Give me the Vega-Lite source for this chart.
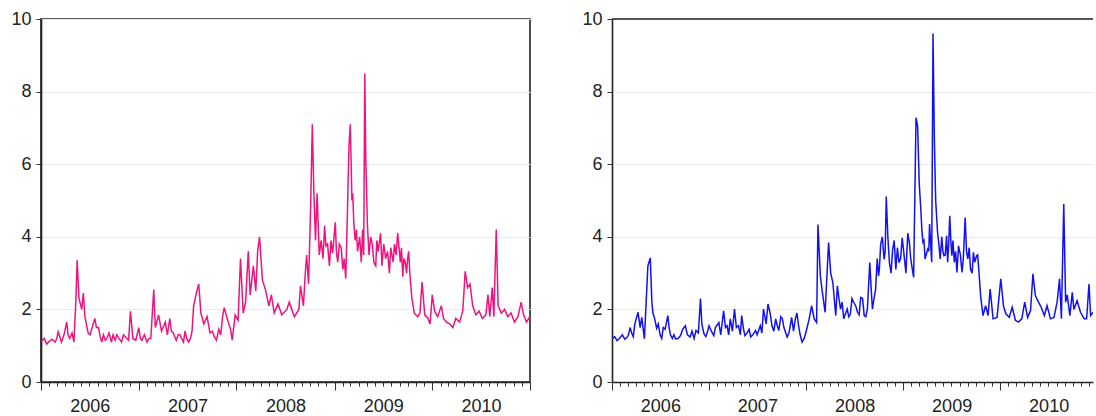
{
  "$schema": "https://vega.github.io/schema/vega-lite/v6.json",
  "padding": {"left": 10, "top": 9, "right": 0, "bottom": 2},
  "background": "white",
  "spacing": 82,
  "bounds": "flush",
  "config": {
    "font": "Liberation Sans",
    "axis": {"labelFont": "Liberation Sans", "labelFontSize": 18, "labelColor": "#222", "title": null}
  },
  "datasets": {
    "pink": [
      {"t": "2006-01-04", "v": 1.13}, {"t": "2006-01-22", "v": 1.05}, {"t": "2006-02-11", "v": 1.18}, {"t": "2006-02-23", "v": 1.1},
      {"t": "2006-03-06", "v": 1.38}, {"t": "2006-03-18", "v": 1.1}, {"t": "2006-04-07", "v": 1.65}, {"t": "2006-04-18", "v": 1.2},
      {"t": "2006-05-04", "v": 1.1}, {"t": "2006-05-11", "v": 2.2}, {"t": "2006-05-16", "v": 3.35}, {"t": "2006-05-23", "v": 2.3},
      {"t": "2006-06-02", "v": 2.0}, {"t": "2006-06-08", "v": 2.45}, {"t": "2006-06-14", "v": 1.8}, {"t": "2006-06-26", "v": 1.35},
      {"t": "2006-07-09", "v": 1.45}, {"t": "2006-07-21", "v": 1.75}, {"t": "2006-08-04", "v": 1.5}, {"t": "2006-08-16", "v": 1.1},
      {"t": "2006-09-04", "v": 1.2}, {"t": "2006-09-21", "v": 1.1}, {"t": "2006-10-11", "v": 1.3}, {"t": "2006-10-29", "v": 1.1},
      {"t": "2006-11-18", "v": 1.2}, {"t": "2006-12-01", "v": 1.95}, {"t": "2006-12-10", "v": 1.2}, {"t": "2006-12-21", "v": 1.15},
      {"t": "2007-01-01", "v": 1.5}, {"t": "2007-01-13", "v": 1.15}, {"t": "2007-02-01", "v": 1.1}, {"t": "2007-02-15", "v": 1.2},
      {"t": "2007-02-26", "v": 2.55}, {"t": "2007-03-04", "v": 1.5}, {"t": "2007-03-16", "v": 1.85}, {"t": "2007-03-27", "v": 1.4},
      {"t": "2007-04-10", "v": 1.65}, {"t": "2007-04-18", "v": 1.3}, {"t": "2007-04-27", "v": 1.75}, {"t": "2007-05-10", "v": 1.35},
      {"t": "2007-05-21", "v": 1.15}, {"t": "2007-06-04", "v": 1.3}, {"t": "2007-06-17", "v": 1.1}, {"t": "2007-06-29", "v": 1.2},
      {"t": "2007-07-13", "v": 1.2}, {"t": "2007-07-25", "v": 2.1}, {"t": "2007-08-04", "v": 2.45}, {"t": "2007-08-13", "v": 2.7},
      {"t": "2007-08-21", "v": 1.9}, {"t": "2007-09-01", "v": 1.6}, {"t": "2007-09-13", "v": 1.8}, {"t": "2007-09-24", "v": 1.35},
      {"t": "2007-10-10", "v": 1.25}, {"t": "2007-10-27", "v": 1.45}, {"t": "2007-11-10", "v": 1.8}, {"t": "2007-11-16", "v": 2.05},
      {"t": "2007-11-29", "v": 1.7}, {"t": "2007-12-10", "v": 1.45}, {"t": "2007-12-16", "v": 1.15}, {"t": "2007-12-27", "v": 1.85},
      {"t": "2008-01-07", "v": 1.7}, {"t": "2008-01-16", "v": 3.4}, {"t": "2008-01-26", "v": 1.9}, {"t": "2008-02-04", "v": 2.2},
      {"t": "2008-02-14", "v": 3.6}, {"t": "2008-02-21", "v": 2.4}, {"t": "2008-03-04", "v": 3.2}, {"t": "2008-03-13", "v": 2.5},
      {"t": "2008-03-20", "v": 3.6}, {"t": "2008-03-27", "v": 4.0}, {"t": "2008-04-07", "v": 2.8}, {"t": "2008-04-18", "v": 2.55},
      {"t": "2008-05-01", "v": 2.1}, {"t": "2008-05-10", "v": 2.4}, {"t": "2008-05-21", "v": 1.9}, {"t": "2008-06-04", "v": 2.15},
      {"t": "2008-06-18", "v": 1.85}, {"t": "2008-07-07", "v": 2.0}, {"t": "2008-07-16", "v": 2.2}, {"t": "2008-08-04", "v": 1.8},
      {"t": "2008-08-21", "v": 2.0}, {"t": "2008-08-27", "v": 2.65}, {"t": "2008-09-07", "v": 2.1}, {"t": "2008-09-13", "v": 2.9},
      {"t": "2008-09-19", "v": 3.5}, {"t": "2008-09-26", "v": 2.7}, {"t": "2008-10-04", "v": 4.85}, {"t": "2008-10-10", "v": 7.1},
      {"t": "2008-10-16", "v": 5.2}, {"t": "2008-10-22", "v": 3.9}, {"t": "2008-10-28", "v": 5.2}, {"t": "2008-11-05", "v": 3.5},
      {"t": "2008-11-19", "v": 3.4}, {"t": "2008-11-25", "v": 4.3}, {"t": "2008-11-30", "v": 3.75}, {"t": "2008-12-13", "v": 3.2},
      {"t": "2008-12-25", "v": 3.55}, {"t": "2009-01-04", "v": 4.4}, {"t": "2009-01-13", "v": 3.3}, {"t": "2009-01-19", "v": 3.8},
      {"t": "2009-02-01", "v": 3.1}, {"t": "2009-02-12", "v": 2.85}, {"t": "2009-02-18", "v": 4.6}, {"t": "2009-02-24", "v": 6.5},
      {"t": "2009-03-01", "v": 7.1}, {"t": "2009-03-07", "v": 5.0}, {"t": "2009-03-10", "v": 5.2}, {"t": "2009-03-19", "v": 3.9},
      {"t": "2009-03-28", "v": 3.6}, {"t": "2009-04-05", "v": 4.0}, {"t": "2009-04-11", "v": 3.3}, {"t": "2009-04-16", "v": 4.2},
      {"t": "2009-04-20", "v": 3.5}, {"t": "2009-04-24", "v": 8.5}, {"t": "2009-04-28", "v": 6.1}, {"t": "2009-05-04", "v": 4.3},
      {"t": "2009-05-10", "v": 3.5}, {"t": "2009-05-22", "v": 3.8}, {"t": "2009-06-04", "v": 3.2}, {"t": "2009-06-13", "v": 3.6},
      {"t": "2009-06-22", "v": 4.1}, {"t": "2009-06-27", "v": 3.2}, {"t": "2009-07-11", "v": 3.4}, {"t": "2009-07-25", "v": 3.0},
      {"t": "2009-07-30", "v": 3.7}, {"t": "2009-08-08", "v": 3.3}, {"t": "2009-08-19", "v": 3.5}, {"t": "2009-08-25", "v": 4.1},
      {"t": "2009-09-04", "v": 3.3}, {"t": "2009-09-13", "v": 2.9}, {"t": "2009-09-22", "v": 3.3}, {"t": "2009-10-01", "v": 3.4},
      {"t": "2009-10-10", "v": 2.9}, {"t": "2009-10-17", "v": 2.3}, {"t": "2009-10-26", "v": 1.9}, {"t": "2009-11-08", "v": 1.8},
      {"t": "2009-11-16", "v": 1.9}, {"t": "2009-11-24", "v": 2.75}, {"t": "2009-12-04", "v": 1.85}, {"t": "2009-12-16", "v": 1.75},
      {"t": "2009-12-24", "v": 1.6}, {"t": "2010-01-01", "v": 2.4}, {"t": "2010-01-10", "v": 1.95}, {"t": "2010-01-21", "v": 1.8},
      {"t": "2010-02-04", "v": 2.1}, {"t": "2010-02-12", "v": 1.75}, {"t": "2010-02-23", "v": 1.65}, {"t": "2010-03-07", "v": 1.6},
      {"t": "2010-03-19", "v": 1.5}, {"t": "2010-03-30", "v": 1.75}, {"t": "2010-04-13", "v": 1.65}, {"t": "2010-04-25", "v": 1.95},
      {"t": "2010-05-04", "v": 3.05}, {"t": "2010-05-13", "v": 2.6}, {"t": "2010-05-22", "v": 2.7}, {"t": "2010-06-01", "v": 2.1},
      {"t": "2010-06-13", "v": 1.85}, {"t": "2010-06-25", "v": 1.95}, {"t": "2010-07-07", "v": 1.75}, {"t": "2010-07-20", "v": 1.85},
      {"t": "2010-07-28", "v": 2.4}, {"t": "2010-08-04", "v": 1.8}, {"t": "2010-08-13", "v": 2.6}, {"t": "2010-08-19", "v": 1.8},
      {"t": "2010-08-28", "v": 4.2}, {"t": "2010-09-04", "v": 2.1}, {"t": "2010-09-16", "v": 1.9}, {"t": "2010-09-28", "v": 2.0},
      {"t": "2010-10-10", "v": 1.8}, {"t": "2010-10-22", "v": 1.9}, {"t": "2010-11-04", "v": 1.65}, {"t": "2010-11-17", "v": 1.8},
      {"t": "2010-11-29", "v": 2.2}, {"t": "2010-12-08", "v": 1.85}, {"t": "2010-12-19", "v": 1.65}, {"t": "2010-12-31", "v": 1.8},
      {"t": "2006-01-13", "v": 1.2}, {"t": "2006-02-01", "v": 1.12}, {"t": "2006-03-01", "v": 1.2}, {"t": "2006-03-12", "v": 1.25},
      {"t": "2006-03-28", "v": 1.3}, {"t": "2006-04-12", "v": 1.3}, {"t": "2006-04-27", "v": 1.35}, {"t": "2006-07-03", "v": 1.3},
      {"t": "2006-07-15", "v": 1.6}, {"t": "2006-07-27", "v": 1.5}, {"t": "2006-08-10", "v": 1.25}, {"t": "2006-08-22", "v": 1.3},
      {"t": "2006-08-29", "v": 1.15}, {"t": "2006-09-12", "v": 1.35}, {"t": "2006-09-27", "v": 1.3}, {"t": "2006-10-05", "v": 1.15},
      {"t": "2006-10-19", "v": 1.2}, {"t": "2006-11-05", "v": 1.3}, {"t": "2006-11-24", "v": 1.15}, {"t": "2007-01-07", "v": 1.2},
      {"t": "2007-01-22", "v": 1.3}, {"t": "2007-02-08", "v": 1.2}, {"t": "2007-05-03", "v": 1.4}, {"t": "2007-05-28", "v": 1.3},
      {"t": "2007-06-10", "v": 1.2}, {"t": "2007-06-23", "v": 1.4}, {"t": "2007-07-06", "v": 1.1}, {"t": "2007-07-19", "v": 1.4},
      {"t": "2007-10-03", "v": 1.4}, {"t": "2007-10-18", "v": 1.15}, {"t": "2007-11-03", "v": 1.3},
      {"t": "2008-11-12", "v": 3.9}, {"t": "2008-12-06", "v": 3.8}, {"t": "2008-12-19", "v": 3.9}, {"t": "2009-01-08", "v": 3.6},
      {"t": "2009-01-26", "v": 3.7}, {"t": "2009-02-06", "v": 3.4}, {"t": "2009-03-14", "v": 4.4}, {"t": "2009-03-24", "v": 4.2},
      {"t": "2009-05-16", "v": 4.0}, {"t": "2009-05-28", "v": 3.3}, {"t": "2009-06-08", "v": 3.9}, {"t": "2009-07-04", "v": 3.8},
      {"t": "2009-07-18", "v": 3.6}, {"t": "2009-08-13", "v": 3.8}, {"t": "2009-09-08", "v": 3.7}, {"t": "2009-09-17", "v": 3.4},
      {"t": "2009-09-27", "v": 3.0}, {"t": "2009-10-05", "v": 3.6}
    ],
    "blue": [
      {"t": "2006-01-02", "v": 1.19}, {"t": "2006-01-20", "v": 1.14}, {"t": "2006-02-09", "v": 1.3}, {"t": "2006-02-27", "v": 1.23},
      {"t": "2006-03-10", "v": 1.5}, {"t": "2006-03-22", "v": 1.25}, {"t": "2006-04-09", "v": 1.92}, {"t": "2006-04-17", "v": 1.5},
      {"t": "2006-04-23", "v": 1.78}, {"t": "2006-05-03", "v": 1.19}, {"t": "2006-05-16", "v": 3.2}, {"t": "2006-05-25", "v": 3.42},
      {"t": "2006-05-31", "v": 2.2}, {"t": "2006-06-10", "v": 1.76}, {"t": "2006-06-18", "v": 1.48}, {"t": "2006-07-01", "v": 1.3},
      {"t": "2006-07-13", "v": 1.5}, {"t": "2006-07-30", "v": 1.83}, {"t": "2006-08-09", "v": 1.3}, {"t": "2006-08-28", "v": 1.19},
      {"t": "2006-09-16", "v": 1.28}, {"t": "2006-10-04", "v": 1.55}, {"t": "2006-10-22", "v": 1.24}, {"t": "2006-11-13", "v": 1.42},
      {"t": "2006-11-30", "v": 2.3}, {"t": "2006-12-13", "v": 1.33}, {"t": "2007-01-01", "v": 1.55}, {"t": "2007-01-19", "v": 1.28},
      {"t": "2007-02-07", "v": 1.64}, {"t": "2007-02-25", "v": 1.96}, {"t": "2007-03-10", "v": 1.55}, {"t": "2007-03-22", "v": 1.74},
      {"t": "2007-04-07", "v": 2.01}, {"t": "2007-04-22", "v": 1.55}, {"t": "2007-05-04", "v": 1.83}, {"t": "2007-05-16", "v": 1.28},
      {"t": "2007-06-07", "v": 1.24}, {"t": "2007-06-25", "v": 1.42}, {"t": "2007-07-13", "v": 1.55}, {"t": "2007-07-25", "v": 2.01},
      {"t": "2007-08-11", "v": 2.15}, {"t": "2007-08-26", "v": 1.55}, {"t": "2007-09-09", "v": 1.74}, {"t": "2007-09-21", "v": 1.42},
      {"t": "2007-10-04", "v": 1.74}, {"t": "2007-10-22", "v": 1.24}, {"t": "2007-11-08", "v": 1.78}, {"t": "2007-11-22", "v": 1.74},
      {"t": "2007-12-04", "v": 1.55}, {"t": "2007-12-17", "v": 1.1}, {"t": "2008-01-01", "v": 1.37}, {"t": "2008-01-13", "v": 1.74},
      {"t": "2008-01-22", "v": 2.1}, {"t": "2008-02-01", "v": 1.74}, {"t": "2008-02-10", "v": 1.64}, {"t": "2008-02-15", "v": 4.34},
      {"t": "2008-02-24", "v": 2.92}, {"t": "2008-03-01", "v": 2.56}, {"t": "2008-03-13", "v": 1.92}, {"t": "2008-03-26", "v": 3.84},
      {"t": "2008-04-03", "v": 3.0}, {"t": "2008-04-11", "v": 2.74}, {"t": "2008-04-22", "v": 1.83}, {"t": "2008-04-28", "v": 2.65},
      {"t": "2008-05-10", "v": 2.01}, {"t": "2008-05-22", "v": 1.74}, {"t": "2008-06-04", "v": 2.01}, {"t": "2008-06-16", "v": 1.87},
      {"t": "2008-06-29", "v": 2.19}, {"t": "2008-07-13", "v": 1.92}, {"t": "2008-07-25", "v": 2.33}, {"t": "2008-08-07", "v": 1.83},
      {"t": "2008-08-19", "v": 2.01}, {"t": "2008-08-28", "v": 3.29}, {"t": "2008-09-07", "v": 2.01}, {"t": "2008-09-19", "v": 2.56},
      {"t": "2008-09-30", "v": 2.92}, {"t": "2008-10-08", "v": 3.79}, {"t": "2008-10-21", "v": 3.38}, {"t": "2008-10-29", "v": 5.11},
      {"t": "2008-11-10", "v": 3.29}, {"t": "2008-11-22", "v": 3.65}, {"t": "2008-12-04", "v": 3.1}, {"t": "2008-12-16", "v": 3.29},
      {"t": "2008-12-28", "v": 3.97}, {"t": "2009-01-11", "v": 3.0}, {"t": "2009-01-24", "v": 3.84}, {"t": "2009-02-04", "v": 3.11},
      {"t": "2009-02-09", "v": 2.88}, {"t": "2009-02-18", "v": 7.28}, {"t": "2009-02-24", "v": 7.05}, {"t": "2009-03-02", "v": 5.49},
      {"t": "2009-03-08", "v": 4.76}, {"t": "2009-03-16", "v": 3.85}, {"t": "2009-03-24", "v": 3.39}, {"t": "2009-04-03", "v": 3.66},
      {"t": "2009-04-10", "v": 4.35}, {"t": "2009-04-18", "v": 3.3}, {"t": "2009-04-23", "v": 9.6}, {"t": "2009-04-28", "v": 6.68},
      {"t": "2009-05-03", "v": 5.0}, {"t": "2009-05-10", "v": 4.12}, {"t": "2009-05-20", "v": 3.39}, {"t": "2009-05-26", "v": 4.0},
      {"t": "2009-06-03", "v": 3.48}, {"t": "2009-06-13", "v": 4.03}, {"t": "2009-06-17", "v": 3.3}, {"t": "2009-06-25", "v": 4.58},
      {"t": "2009-07-03", "v": 3.48}, {"t": "2009-07-12", "v": 3.3}, {"t": "2009-07-22", "v": 3.02}, {"t": "2009-07-28", "v": 3.75},
      {"t": "2009-08-10", "v": 3.02}, {"t": "2009-08-22", "v": 4.53}, {"t": "2009-09-01", "v": 3.39}, {"t": "2009-09-11", "v": 3.11},
      {"t": "2009-09-22", "v": 3.57}, {"t": "2009-10-04", "v": 3.48}, {"t": "2009-10-13", "v": 3.02}, {"t": "2009-10-19", "v": 2.38},
      {"t": "2009-10-28", "v": 1.83}, {"t": "2009-11-07", "v": 2.1}, {"t": "2009-11-16", "v": 1.83}, {"t": "2009-11-24", "v": 2.56},
      {"t": "2009-12-05", "v": 1.74}, {"t": "2009-12-20", "v": 1.78}, {"t": "2010-01-03", "v": 2.84}, {"t": "2010-01-13", "v": 2.1},
      {"t": "2010-01-22", "v": 1.88}, {"t": "2010-02-04", "v": 1.78}, {"t": "2010-02-15", "v": 2.06}, {"t": "2010-02-27", "v": 1.7},
      {"t": "2010-03-10", "v": 1.65}, {"t": "2010-03-23", "v": 1.74}, {"t": "2010-04-03", "v": 2.2}, {"t": "2010-04-14", "v": 1.78},
      {"t": "2010-04-25", "v": 1.97}, {"t": "2010-05-04", "v": 2.98}, {"t": "2010-05-13", "v": 2.38}, {"t": "2010-05-25", "v": 2.2},
      {"t": "2010-06-04", "v": 2.06}, {"t": "2010-06-16", "v": 1.83}, {"t": "2010-06-26", "v": 2.1}, {"t": "2010-07-09", "v": 1.74},
      {"t": "2010-07-22", "v": 1.78}, {"t": "2010-08-03", "v": 2.2}, {"t": "2010-08-12", "v": 2.84}, {"t": "2010-08-19", "v": 1.74},
      {"t": "2010-08-28", "v": 4.9}, {"t": "2010-09-04", "v": 2.2}, {"t": "2010-09-10", "v": 2.4}, {"t": "2010-09-20", "v": 1.83},
      {"t": "2010-09-29", "v": 2.47}, {"t": "2010-10-05", "v": 2.0}, {"t": "2010-10-17", "v": 2.24}, {"t": "2010-10-30", "v": 1.92},
      {"t": "2010-11-13", "v": 1.74}, {"t": "2010-11-22", "v": 1.74}, {"t": "2010-12-01", "v": 2.7}, {"t": "2010-12-07", "v": 1.83},
      {"t": "2010-12-16", "v": 1.92},
      {"t": "2006-01-11", "v": 1.25}, {"t": "2006-01-29", "v": 1.2}, {"t": "2006-02-18", "v": 1.18}, {"t": "2006-03-04", "v": 1.3},
      {"t": "2006-03-16", "v": 1.35}, {"t": "2006-03-28", "v": 1.6}, {"t": "2006-06-04", "v": 1.9}, {"t": "2006-06-24", "v": 1.6},
      {"t": "2006-07-07", "v": 1.2}, {"t": "2006-07-20", "v": 1.45}, {"t": "2006-08-04", "v": 1.5}, {"t": "2006-08-16", "v": 1.2},
      {"t": "2006-08-22", "v": 1.3}, {"t": "2006-09-06", "v": 1.2}, {"t": "2006-09-24", "v": 1.45}, {"t": "2006-10-12", "v": 1.3},
      {"t": "2006-10-29", "v": 1.4}, {"t": "2006-11-06", "v": 1.2}, {"t": "2006-11-22", "v": 1.35}, {"t": "2006-12-05", "v": 1.6},
      {"t": "2006-12-20", "v": 1.25}, {"t": "2006-12-27", "v": 1.4}, {"t": "2007-01-10", "v": 1.4}, {"t": "2007-01-25", "v": 1.5},
      {"t": "2007-02-14", "v": 1.3}, {"t": "2007-03-04", "v": 1.5}, {"t": "2007-03-16", "v": 1.3}, {"t": "2007-03-30", "v": 1.4},
      {"t": "2007-04-14", "v": 1.5}, {"t": "2007-04-29", "v": 1.3}, {"t": "2007-05-10", "v": 1.5}, {"t": "2007-05-24", "v": 1.35},
      {"t": "2007-06-01", "v": 1.45}, {"t": "2007-06-15", "v": 1.3}, {"t": "2007-07-01", "v": 1.3}, {"t": "2007-07-19", "v": 1.35},
      {"t": "2007-08-04", "v": 1.6}, {"t": "2007-08-19", "v": 1.9}, {"t": "2007-09-02", "v": 1.4}, {"t": "2007-09-15", "v": 1.55},
      {"t": "2007-09-28", "v": 1.8}, {"t": "2007-10-10", "v": 1.5}, {"t": "2007-10-29", "v": 1.35}, {"t": "2007-11-15", "v": 1.4},
      {"t": "2007-11-28", "v": 1.9}, {"t": "2007-12-10", "v": 1.3}, {"t": "2007-12-25", "v": 1.2},
      {"t": "2008-05-04", "v": 2.3}, {"t": "2008-05-16", "v": 2.2}, {"t": "2008-06-10", "v": 1.8}, {"t": "2008-06-22", "v": 2.3},
      {"t": "2008-07-06", "v": 2.1}, {"t": "2008-07-19", "v": 1.85}, {"t": "2008-08-01", "v": 2.3}, {"t": "2008-08-13", "v": 1.8},
      {"t": "2008-09-02", "v": 2.6}, {"t": "2008-09-13", "v": 2.3}, {"t": "2008-09-25", "v": 3.4}, {"t": "2008-10-03", "v": 3.1},
      {"t": "2008-10-14", "v": 4.0}, {"t": "2008-10-25", "v": 3.6}, {"t": "2008-11-04", "v": 4.0}, {"t": "2008-11-16", "v": 3.0},
      {"t": "2008-11-28", "v": 3.9}, {"t": "2008-12-10", "v": 3.7}, {"t": "2008-12-22", "v": 3.4}, {"t": "2009-01-04", "v": 3.5},
      {"t": "2009-01-18", "v": 4.1}, {"t": "2009-01-29", "v": 3.4}, {"t": "2009-03-12", "v": 4.2}, {"t": "2009-03-20", "v": 3.9},
      {"t": "2009-04-07", "v": 3.6}, {"t": "2009-05-15", "v": 3.8}, {"t": "2009-05-30", "v": 3.6}, {"t": "2009-06-08", "v": 3.5},
      {"t": "2009-06-21", "v": 3.8}, {"t": "2009-06-29", "v": 3.9}, {"t": "2009-07-07", "v": 3.9}, {"t": "2009-07-17", "v": 3.6},
      {"t": "2009-08-04", "v": 3.5}, {"t": "2009-08-15", "v": 3.4}, {"t": "2009-08-27", "v": 3.6}, {"t": "2009-09-06", "v": 3.7},
      {"t": "2009-09-17", "v": 3.0}, {"t": "2009-09-27", "v": 3.3}, {"t": "2009-10-08", "v": 3.5}
    ]
  },
  "hconcat": [
    {
      "width": 489,
      "height": 363,
      "view": {"stroke": "#222", "strokeWidth": 1.6},
      "data": {"name": "pink"},
      "resolve": {"axis": {"x": "independent"}},
      "layer": [
        {
          "mark": {"type": "line", "color": "#ee1480", "strokeWidth": 1.5, "clip": true},
          "encoding": {
            "x": {
              "field": "t", "type": "temporal",
              "scale": {"type": "utc", "nice": false, "domain": [{"year": 2006, "month": 1, "date": 1, "utc": true}, {"year": 2011, "month": 1, "date": 1, "utc": true}]},
              "axis": {"orient": "bottom", "tickCount": {"interval": "month", "step": 1}, "labels": false, "tickSize": {"condition": {"test": "utcmonth(datum.value) === 0", "value": 8}, "value": 4}, "tickColor": "#333", "domainColor": "#222", "domainWidth": 1.6, "grid": false, "title": null}
            },
            "y": {
              "field": "v", "type": "quantitative",
              "scale": {"domain": [0, 10], "nice": false, "zero": true},
              "axis": {"values": [0, 2, 4, 6, 8, 10], "tickSize": 5, "tickColor": "#333", "labelPadding": 5, "domainColor": "#222", "domainWidth": 1.6, "grid": true, "gridColor": "#ebebeb", "gridWidth": 1, "title": null}
            }
          }
        },
        {
          "mark": {"type": "rule", "strokeOpacity": 0},
          "encoding": {
            "x": {
              "field": "t", "type": "temporal",
              "scale": {"type": "utc", "nice": false, "domain": [{"year": 2006, "month": 1, "date": 1, "utc": true}, {"year": 2011, "month": 1, "date": 1, "utc": true}]},
              "axis": {"orient": "bottom", "values": [{"year": 2006, "month": 7, "date": 2, "utc": true}, {"year": 2007, "month": 7, "date": 2, "utc": true}, {"year": 2008, "month": 7, "date": 2, "utc": true}, {"year": 2009, "month": 7, "date": 2, "utc": true}, {"year": 2010, "month": 7, "date": 2, "utc": true}], "format": "%Y", "ticks": false, "tickSize": 0, "labelPadding": 15, "domain": false, "grid": false, "labelFlush": false, "labelOverlap": false, "title": null}
            }
          }
        }
      ]
    },
    {
      "width": 481,
      "height": 363,
      "view": {"stroke": null},
      "data": {"name": "blue"},
      "resolve": {"axis": {"x": "independent"}},
      "layer": [
        {
          "mark": {"type": "line", "color": "#1212f0", "strokeWidth": 1.5, "clip": true},
          "encoding": {
            "x": {
              "field": "t", "type": "temporal",
              "scale": {"type": "utc", "nice": false, "domain": [{"year": 2006, "month": 1, "date": 1, "utc": true}, {"year": 2010, "month": 12, "date": 16, "utc": true}]},
              "axis": {"orient": "bottom", "tickCount": {"interval": "month", "step": 1}, "labels": false, "tickSize": {"condition": {"test": "utcmonth(datum.value) === 0", "value": 8}, "value": 4}, "tickColor": "#333", "domainColor": "#222", "domainWidth": 1.6, "grid": false, "title": null}
            },
            "y": {
              "field": "v", "type": "quantitative",
              "scale": {"domain": [0, 10], "nice": false, "zero": true},
              "axis": {"values": [0, 2, 4, 6, 8, 10], "tickSize": 5, "tickColor": "#333", "labelPadding": 5, "domainColor": "#222", "domainWidth": 1.6, "grid": true, "gridColor": "#ebebeb", "gridWidth": 1, "title": null}
            }
          }
        },
        {
          "data": {"values": [{"top": 10}]},
          "mark": {"type": "rule", "color": "#222", "strokeWidth": 1.6},
          "encoding": {
            "y": {"field": "top", "type": "quantitative"}
          }
        },
        {
          "mark": {"type": "rule", "strokeOpacity": 0},
          "encoding": {
            "x": {
              "field": "t", "type": "temporal",
              "scale": {"type": "utc", "nice": false, "domain": [{"year": 2006, "month": 1, "date": 1, "utc": true}, {"year": 2010, "month": 12, "date": 16, "utc": true}]},
              "axis": {"orient": "bottom", "values": [{"year": 2006, "month": 7, "date": 2, "utc": true}, {"year": 2007, "month": 7, "date": 2, "utc": true}, {"year": 2008, "month": 7, "date": 2, "utc": true}, {"year": 2009, "month": 7, "date": 2, "utc": true}, {"year": 2010, "month": 7, "date": 2, "utc": true}], "format": "%Y", "ticks": false, "tickSize": 0, "labelPadding": 15, "domain": false, "grid": false, "labelFlush": false, "labelOverlap": false, "title": null}
            }
          }
        }
      ]
    }
  ]
}
